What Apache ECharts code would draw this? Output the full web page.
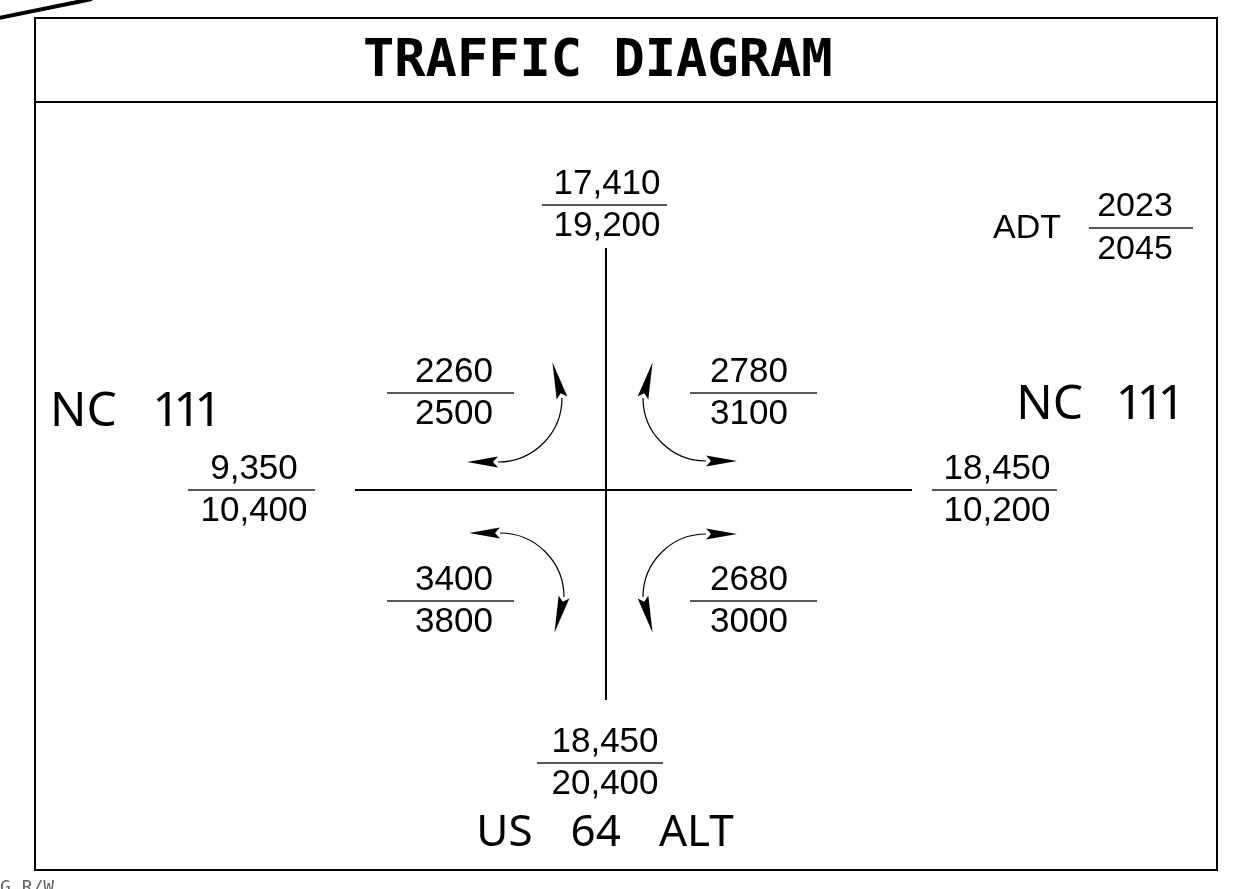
<!DOCTYPE html>
<html><head><meta charset="utf-8">
<script src="https://cdn.jsdelivr.net/npm/echarts@6/dist/echarts.min.js"></script>
<style>html,body{margin:0;padding:0;background:#fff}#chart{width:1240px;height:889px}</style>
</head><body><div id="chart"></div>
<script>
// ---------- data ----------
const titleText = 'TRAFFIC DIAGRAM';
const legendLabel = 'ADT';
const legendYears = [2023, 2045];
const approachNames = ['North leg', 'West leg (NC 111)', 'East leg (NC 111)', 'South leg (US 64 ALT)'];
const approachADT2023 = [17410, 9350, 18450, 18450];
const approachADT2045 = [19200, 10400, 10200, 20400];
const turnNames = ['NW quadrant', 'NE quadrant', 'SW quadrant', 'SE quadrant'];
const turnADT2023 = [2260, 2780, 3400, 2680];
const turnADT2045 = [2500, 3100, 3800, 3000];
const roadLabels = ['NC 111', 'NC 111', 'US 64 ALT'];
const cornerNote = 'G R/W';

// ---------- layout (diagram units = pixels) ----------
const W = 1240, H = 889;
const approachLayout = [[607, 205, 542, 667], [254, 490, 188, 315], [997, 490, 932, 1057], [605, 763, 537, 663]]; // textX, barY, barX1, barX2
const turnLabelLayout = [[454, 393, 387, 514], [749, 393, 690, 817], [454, 601, 387, 514], [749, 601, 690, 817]];
const legendFracLayout = [[1135, 228, 1089, 1193]];
const legendLabelLayout = [[993, 229]];
const turnArcLayout = [[498, 398, 64, 0, 90], [706, 398, 63, 90, 180], [500, 597, 64, 270, 360], [706, 597, 63, 180, 270]]; // cx, cy, r, startDeg, endDeg
const roadLabelLayout = [[50, 412], [1182, 405], [605, 833]];
const roadLabelAlign = ['left', 'right', 'center'];
const roadLabelSize = [48, 48, 44];
const roadLabelGap = [39, 36, 38];
const roadLines = [[355, 490, 912, 490], [606, 248, 606, 700]];

const NUM_FONT = '"Liberation Sans", Arial, sans-serif';
const ROAD_FONT = '"Noto Sans", "Liberation Sans", sans-serif';
const fmtComma = v => v.toLocaleString('en-US');
const fmtPlain = v => String(v);

function fractionSeries(name, layout, tops, bottoms, fmt, fontSize, gapTop, gapBottom) {
  return {
    type: 'custom', name, coordinateSystem: 'cartesian2d', silent: true, clip: false,
    data: layout.map(l => l.slice()),
    renderItem(params, api) {
      const i = params.dataIndex;
      const t = api.coord([api.value(0), api.value(1)]);
      const a = api.coord([api.value(2), api.value(1)]);
      const b = api.coord([api.value(3), api.value(1)]);
      const ts = { fontSize, fontFamily: NUM_FONT, fill: '#000', align: 'center', verticalAlign: 'middle' };
      return { type: 'group', children: [
        { type: 'line', shape: { x1: a[0], y1: a[1], x2: b[0], y2: b[1] }, style: { stroke: '#222', lineWidth: 1.3 } },
        { type: 'text', x: t[0], y: t[1] - gapTop, style: Object.assign({ text: fmt(tops[i]) }, ts) },
        { type: 'text', x: t[0], y: t[1] + gapBottom, style: Object.assign({ text: fmt(bottoms[i]) }, ts) }
      ]};
    }
  };
}

// road name as rich text: words separated by fixed gaps, narrow proportional "1"
function roadRich(label) {
  return label.split(' ').map(w => w.replace(/[^1]+|1/g, m => m === '1' ? '{one|1}' : '{w|' + m + '}')).join('{gap| }');
}

const D = Math.PI / 180;
function arcSeries() {
  return {
    type: 'custom', name: 'Turning movements', coordinateSystem: 'cartesian2d', silent: true, clip: false,
    data: turnArcLayout.map(l => l.slice()),
    renderItem(params, api) {
      const cx = api.value(0), cy = api.value(1), r = api.value(2), a0 = api.value(3), a1 = api.value(4);
      const pt = deg => [cx + r * Math.cos(deg * D), cy + r * Math.sin(deg * D)];
      const c = api.coord([cx, cy]);
      const rp = api.size([r, 0])[0];
      const children = [{
        type: 'arc', shape: { cx: c[0], cy: c[1], r: rp, startAngle: a0 * D, endAngle: a1 * D, clockwise: true },
        style: { stroke: '#000', fill: null, lineWidth: 1.2 }
      }];
      [[a0, -1], [a1, 1]].forEach(([deg, s]) => {
        const B = pt(deg);
        let dir = [-s * Math.sin(deg * D), s * Math.cos(deg * D)];
        let L = 31;
        if (Math.abs(dir[1]) > Math.abs(dir[0])) {
          const Q = pt(deg + s * 30);
          const dx = Q[0] - B[0], dy = Q[1] - B[1], len = Math.hypot(dx, dy);
          dir = [dx / len, dy / len];
          L = 37;
        }
        const hw = 5.5, notch = 5;
        const n = [-dir[1], dir[0]];
        const T = [B[0] + dir[0] * L, B[1] + dir[1] * L];
        const pts = [T, [B[0] + n[0] * hw, B[1] + n[1] * hw], [B[0] + dir[0] * notch, B[1] + dir[1] * notch], [B[0] - n[0] * hw, B[1] - n[1] * hw]]
          .map(p => api.coord(p));
        children.push({ type: 'polygon', shape: { points: pts }, style: { fill: '#000' } });
      });
      return { type: 'group', children };
    }
  };
}

const option = {
  backgroundColor: '#fff',
  animation: false,
  title: {
    text: titleText, left: 363, top: 36, padding: 0,
    textStyle: { fontFamily: '"DejaVu Sans Mono", monospace', fontWeight: 'bold', fontSize: 52, lineHeight: 52, color: '#000' }
  },
  grid: { left: 0, right: 0, top: 0, bottom: 0 },
  xAxis: { type: 'value', min: 0, max: W, show: false },
  yAxis: { type: 'value', min: 0, max: H, inverse: true, show: false },
  graphic: [
    { type: 'line', shape: { x1: -6, y1: 19, x2: 92, y2: -1 }, style: { stroke: '#000', lineWidth: 4 } },
    { type: 'rect', shape: { x: 35, y: 18, width: 1182, height: 852 }, style: { stroke: '#000', fill: null, lineWidth: 2 } },
    { type: 'line', shape: { x1: 35, y1: 102, x2: 1217, y2: 102 }, style: { stroke: '#000', lineWidth: 2 } },
    { type: 'text', x: 0, y: 879, style: { text: cornerNote, font: '18px "DejaVu Sans Mono", monospace', fill: '#666' } }
  ],
  series: [
    {
      type: 'custom', name: 'Roads', coordinateSystem: 'cartesian2d', silent: true, clip: false,
      data: roadLines.map(l => l.slice()),
      renderItem(params, api) {
        const a = api.coord([api.value(0), api.value(1)]);
        const b = api.coord([api.value(2), api.value(3)]);
        return { type: 'line', shape: { x1: a[0], y1: a[1], x2: b[0], y2: b[1] }, style: { stroke: '#000', lineWidth: 2 } };
      }
    },
    {
      type: 'custom', name: 'Road names', coordinateSystem: 'cartesian2d', silent: true, clip: false,
      data: roadLabelLayout.map(l => l.slice()),
      renderItem(params, api) {
        const i = params.dataIndex;
        const p = api.coord([api.value(0), api.value(1)]);
        const base = { fontSize: roadLabelSize[i], fontFamily: ROAD_FONT, fill: '#000' };
        return { type: 'text', x: p[0], y: p[1], style: {
          text: roadRich(roadLabels[i]), align: roadLabelAlign[i], verticalAlign: 'middle',
          fontSize: roadLabelSize[i], fontFamily: ROAD_FONT, fill: '#000',
          rich: {
            w: base,
            one: Object.assign({}, base, { width: 21, align: 'center' }),
            gap: Object.assign({}, base, { width: roadLabelGap[i] })
          }
        } };
      }
    },
    {
      type: 'custom', name: 'Legend label', coordinateSystem: 'cartesian2d', silent: true, clip: false,
      data: legendLabelLayout.map(l => l.slice()),
      renderItem(params, api) {
        const p = api.coord([api.value(0), api.value(1)]);
        return { type: 'text', x: p[0], y: p[1], style: { text: legendLabel, fontSize: 34, fontFamily: NUM_FONT, fill: '#000', align: 'left', verticalAlign: 'middle' } };
      }
    },
    fractionSeries('Legend years', legendFracLayout, [legendYears[0]], [legendYears[1]], fmtPlain, 34, 21, 22),
    fractionSeries('Approach ADT', approachLayout, approachADT2023, approachADT2045, fmtComma, 35, 21, 21),
    fractionSeries('Turning ADT', turnLabelLayout, turnADT2023, turnADT2045, fmtPlain, 35, 21, 21),
    arcSeries()
  ]
};

const chart = echarts.init(document.getElementById('chart'), null, { renderer: 'canvas' });
chart.setOption(option);
</script>
</body></html>
